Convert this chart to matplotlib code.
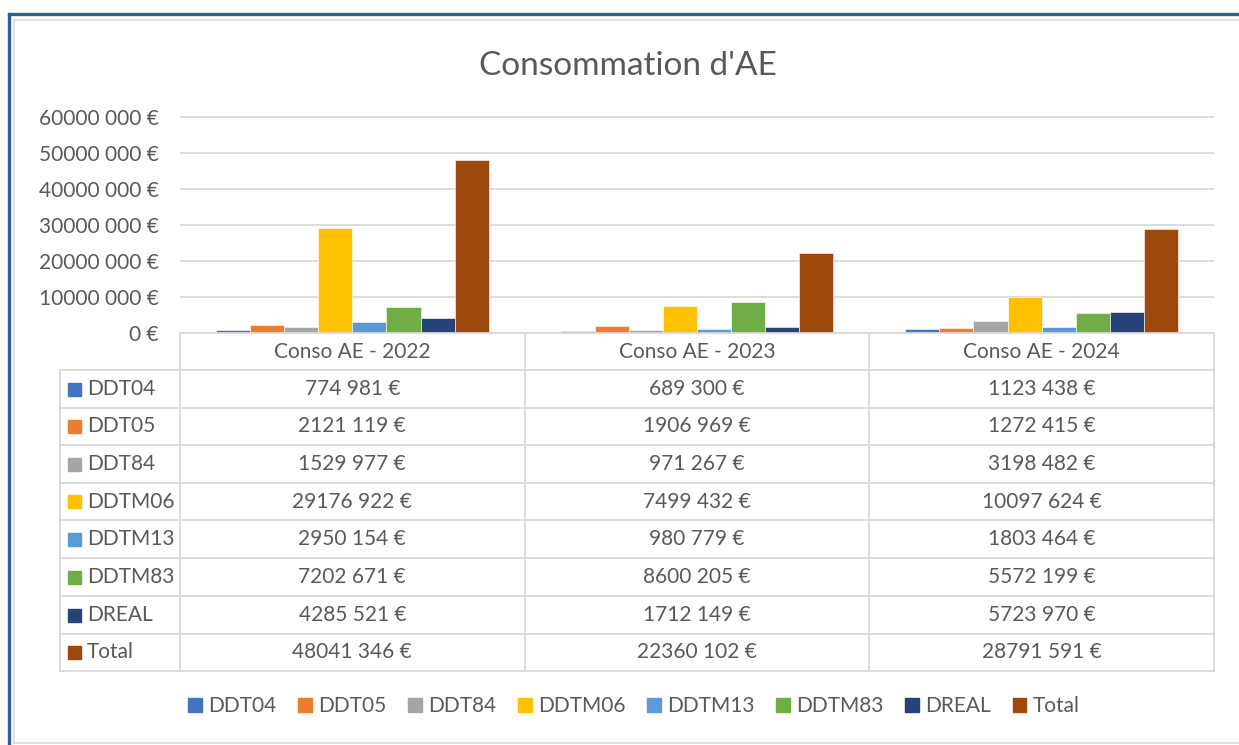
import matplotlib
matplotlib.use("Agg")
import matplotlib.pyplot as plt
from matplotlib.lines import Line2D
from matplotlib.patches import Rectangle
import numpy as np

years = ["Conso AE - 2022", "Conso AE - 2023", "Conso AE - 2024"]
services = ["DDT04", "DDT05", "DDT84", "DDTM06", "DDTM13", "DDTM83", "DREAL", "Total"]
ddt04 = [774981, 689300, 1123438]
ddt05 = [2121119, 1906969, 1272415]
ddt84 = [1529977, 971267, 3198482]
ddtm06 = [29176922, 7499432, 10097624]
ddtm13 = [2950154, 980779, 1803464]
ddtm83 = [7202671, 8600205, 5572199]
dreal = [4285521, 1712149, 5723970]
total = [48041346, 22360102, 28791591]
yticks = [0, 10000000, 20000000, 30000000, 40000000, 50000000, 60000000]

series = [ddt04, ddt05, ddt84, ddtm06, ddtm13, ddtm83, dreal, total]
colors = ["#4472C4", "#ED7D31", "#A5A5A5", "#FFC000",
          "#5B9BD5", "#70AD47", "#264478", "#9E480E"]

W, H = 1239, 745
TXT = "#595959"
GRID = "#D9D9D9"
FS = 15
plt.rcParams["font.family"] = ["Lato", "DejaVu Sans"]


def euro(v):
    v = int(v)
    if v < 1000:
        return f"{v} €"
    return f"{v // 1000} {v % 1000:03d} €"


def fx(x):
    return x / W


def fy(y):
    return 1 - y / H


fig = plt.figure(figsize=(W / 100, H / 100), dpi=100)

# frame of the screenshot
fig.add_artist(Line2D([fx(9), fx(9)], [fy(14), 0], color="#2E5F99", lw=2.4))
fig.add_artist(Line2D([fx(9), 1], [fy(14), fy(14)], color="#2E5F99", lw=2.4))
fig.add_artist(Line2D([fx(14), fx(14)], [fy(20), fy(743)], color=GRID, lw=1.2))
fig.add_artist(Line2D([fx(14), 1], [fy(20), fy(20)], color=GRID, lw=1.2))
fig.add_artist(Line2D([fx(14), 1], [fy(743), fy(743)], color=GRID, lw=1.2))

fig.text(fx(628), fy(66), "Consommation d'AE", ha="center", va="center",
         fontsize=24, color=TXT)

# plot area
x_left, x_right, y_top, y_zero = 180, 1214, 117, 333
ymax = 62000000
px_per = (y_zero - y_top) / 60000000
ax_top = y_zero - ymax * px_per
ax = fig.add_axes([fx(x_left), fy(y_zero), fx(x_right - x_left), (y_zero - ax_top) / H])
ax.set_xlim(-0.5, len(years) - 0.5)
ax.set_ylim(0, ymax)
for s in ax.spines.values():
    s.set_visible(False)
ax.set_yticks(yticks)
ax.set_yticklabels([euro(v) for v in yticks])
ax.tick_params(axis="y", length=0, pad=15.5, labelsize=FS, labelcolor=TXT)
ax.set_xticks([])
ax.grid(axis="y", color=GRID, lw=1.3)
ax.set_axisbelow(True)

bw = 0.099
x = np.arange(len(years))
offsets = (np.arange(len(series)) - (len(series) - 1) / 2) * bw
for vals, off, c, name in zip(series, offsets, colors, services):
    ax.bar(x + off, vals, width=bw, color=c, label=name, edgecolor="white", linewidth=0.4)

# data table under the chart
col_edges = [x_left + i * (x_right - x_left) / 3 for i in range(4)]
row_edges = [333, 370, 408, 445, 483, 520, 558, 596, 634, 671]
lab_left = 60
tw = 1.3
for xe in col_edges:
    fig.add_artist(Line2D([fx(xe)] * 2, [fy(333), fy(671)], color=GRID, lw=tw))
fig.add_artist(Line2D([fx(lab_left)] * 2, [fy(370), fy(671)], color=GRID, lw=tw))
fig.add_artist(Line2D([fx(x_left), fx(x_right)], [fy(333)] * 2, color=GRID, lw=tw))
for ye in row_edges[1:]:
    fig.add_artist(Line2D([fx(lab_left), fx(x_right)], [fy(ye)] * 2, color=GRID, lw=tw))

for j, yr in enumerate(years):
    cx = (col_edges[j] + col_edges[j + 1]) / 2
    fig.text(fx(cx), fy((row_edges[0] + row_edges[1]) / 2), yr, ha="center",
             va="center", fontsize=FS, color=TXT)

for i, (name, vals, c) in enumerate(zip(services, series, colors)):
    cy = (row_edges[i + 1] + row_edges[i + 2]) / 2
    fig.add_artist(Rectangle((fx(68), fy(cy + 6.5)), fx(13), 13 / H, color=c))
    fig.text(fx(87), fy(cy), name, ha="left", va="center", fontsize=FS, color=TXT)
    for j, v in enumerate(vals):
        cx = (col_edges[j] + col_edges[j + 1]) / 2
        fig.text(fx(cx), fy(cy), euro(v), ha="center", va="center",
                 fontsize=FS, color=TXT)

handles = [Rectangle((0, 0), 1, 1, color=c) for c in colors]
leg = fig.legend(handles, services, loc="center", bbox_to_anchor=(fx(634), fy(706)),
                 ncol=8, frameon=False, fontsize=FS, handlelength=0.65,
                 handleheight=0.65, handletextpad=0.3, columnspacing=1.05)
for t in leg.get_texts():
    t.set_color(TXT)

fig.savefig("out.png", dpi=100)
